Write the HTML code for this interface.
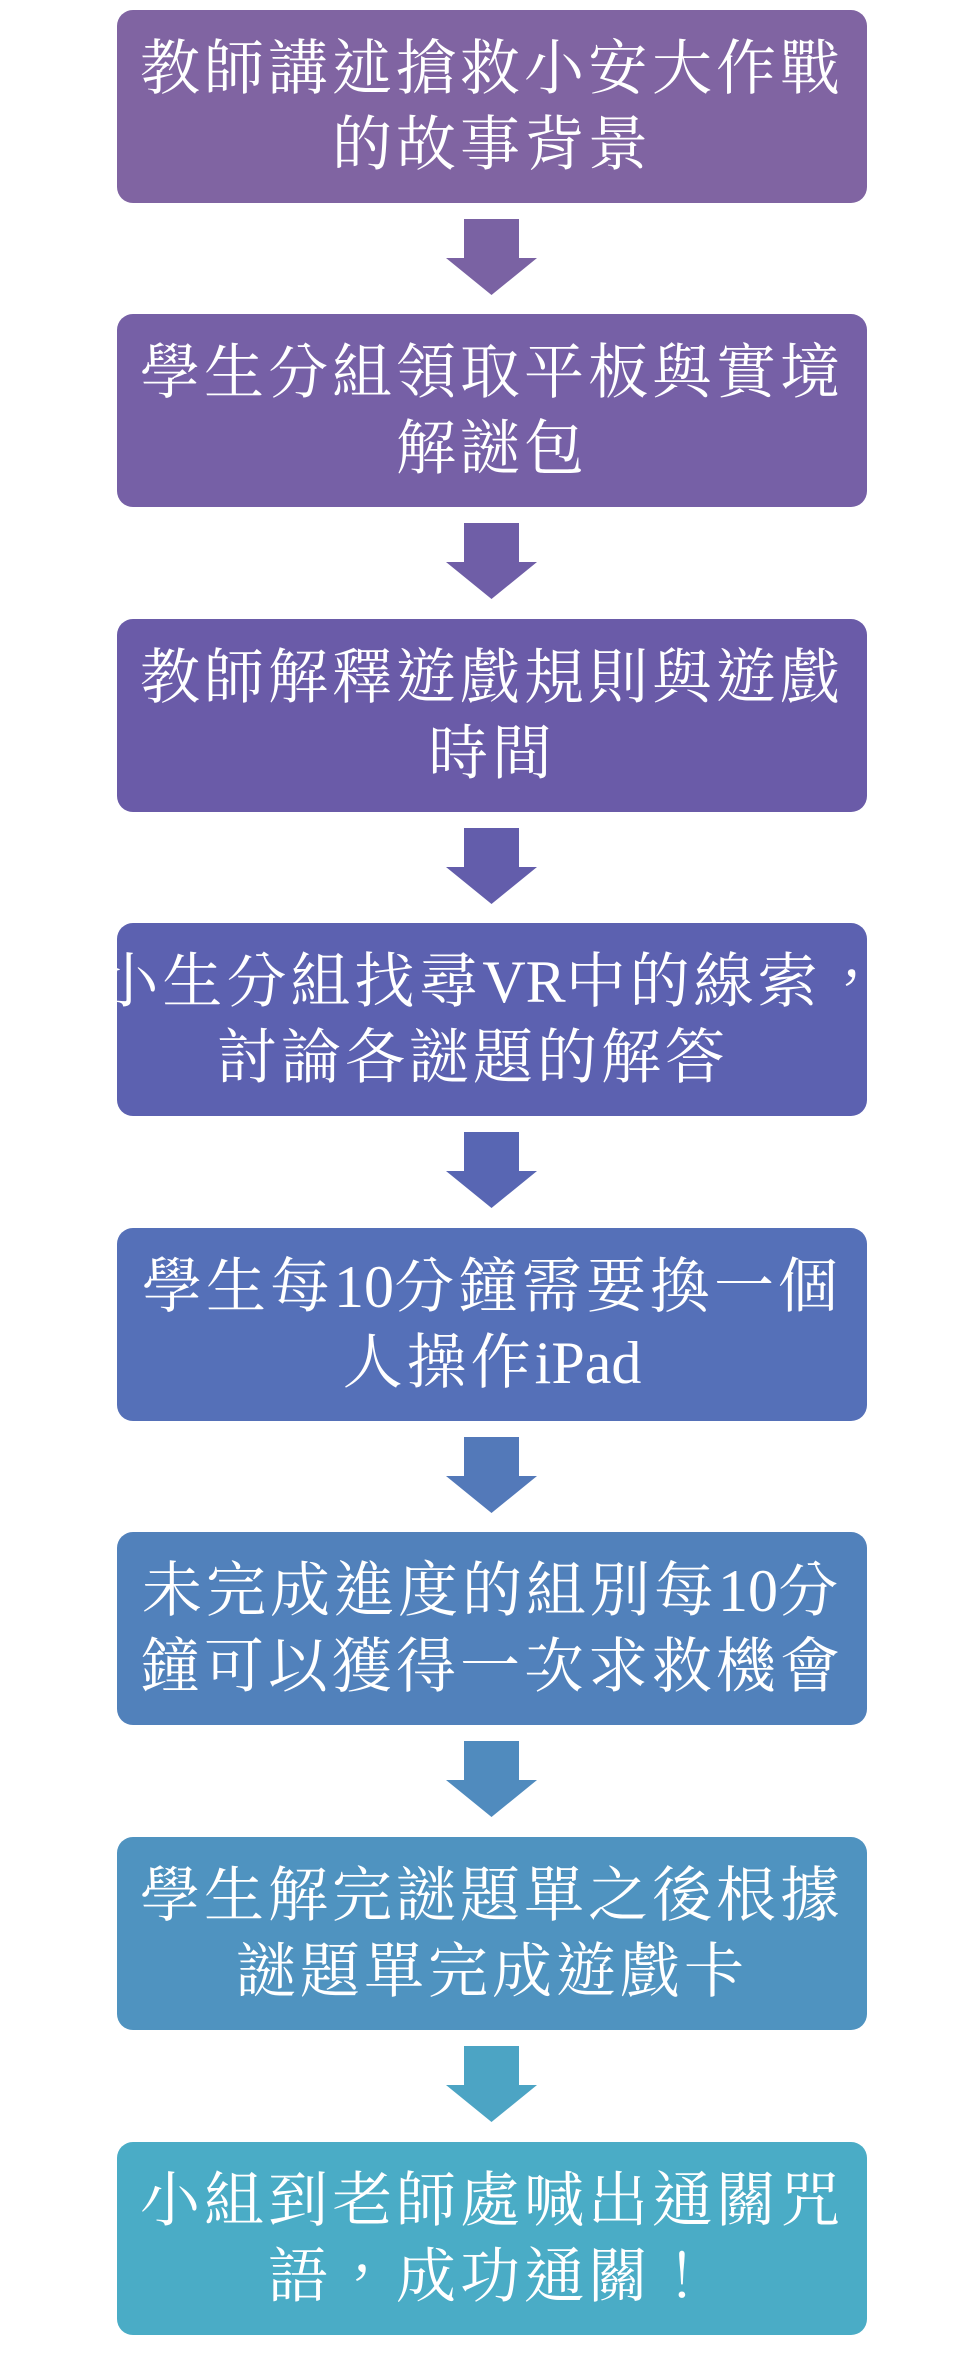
<!DOCTYPE html>
<html><head><meta charset="utf-8"><style>
html,body{margin:0;padding:0;background:#fff;}
body{width:980px;height:2358px;position:relative;overflow:hidden;}
.b{position:absolute;left:117px;width:750px;height:193px;border-radius:16px;color:#fff;
font-family:"Liberation Serif","Noto Serif CJK TC","Noto Serif CJK SC",serif;font-size:60px;line-height:76px;
display:flex;flex-direction:column;justify-content:center;align-items:center;letter-spacing:4px;white-space:nowrap;}
.b div{text-align:center;}
.n{font-family:"Liberation Sans Narrow","Liberation Serif",serif;letter-spacing:0;}
svg.a{position:absolute;left:446px;width:91px;height:76px;}
</style></head><body>
<div class="b" style="top:10px;background:#8064a2"><div>教師講述搶救小安大作戰</div><div>的故事背景</div></div>
<svg class="a" style="top:219px" viewBox="0 0 91 76"><polygon points="18,0 73,0 73,39 91,39 45.5,76 0,39 18,39" fill="#7a62a3"/></svg>
<div class="b" style="top:314px;background:#7660a6"><div>學生分組領取平板與實境</div><div>解謎包</div></div>
<svg class="a" style="top:523px" viewBox="0 0 91 76"><polygon points="18,0 73,0 73,39 91,39 45.5,76 0,39 18,39" fill="#6f5ea7"/></svg>
<div class="b" style="top:619px;background:#6a5ba8"><div>教師解釋遊戲規則與遊戲</div><div>時間</div></div>
<svg class="a" style="top:828px" viewBox="0 0 91 76"><polygon points="18,0 73,0 73,39 91,39 45.5,76 0,39 18,39" fill="#635dab"/></svg>
<div class="b" style="top:923px;background:#5c61b0"><div>小生分組找尋<span class="n">VR</span>中的線索，</div><div>討論各謎題的解答&nbsp;&nbsp;</div></div>
<svg class="a" style="top:1132px" viewBox="0 0 91 76"><polygon points="18,0 73,0 73,39 91,39 45.5,76 0,39 18,39" fill="#5866b3"/></svg>
<div class="b" style="top:1228px;background:#5570b8"><div>學生每<span class="n">10</span>分鐘需要換一個</div><div>人操作<span class="n">iPad</span></div></div>
<svg class="a" style="top:1437px" viewBox="0 0 91 76"><polygon points="18,0 73,0 73,39 91,39 45.5,76 0,39 18,39" fill="#5379b9"/></svg>
<div class="b" style="top:1532px;background:#5181bb"><div>未完成進度的組別每<span class="n">10</span>分</div><div>鐘可以獲得一次求救機會</div></div>
<svg class="a" style="top:1741px" viewBox="0 0 91 76"><polygon points="18,0 73,0 73,39 91,39 45.5,76 0,39 18,39" fill="#508bbe"/></svg>
<div class="b" style="top:1837px;background:#4f93c0"><div>學生解完謎題單之後根據</div><div>謎題單完成遊戲卡</div></div>
<svg class="a" style="top:2046px" viewBox="0 0 91 76"><polygon points="18,0 73,0 73,39 91,39 45.5,76 0,39 18,39" fill="#4ca4c4"/></svg>
<div class="b" style="top:2142px;background:#4aacc6"><div>小組到老師處喊出通關咒</div><div>語，成功通關！</div></div>
</body></html>
